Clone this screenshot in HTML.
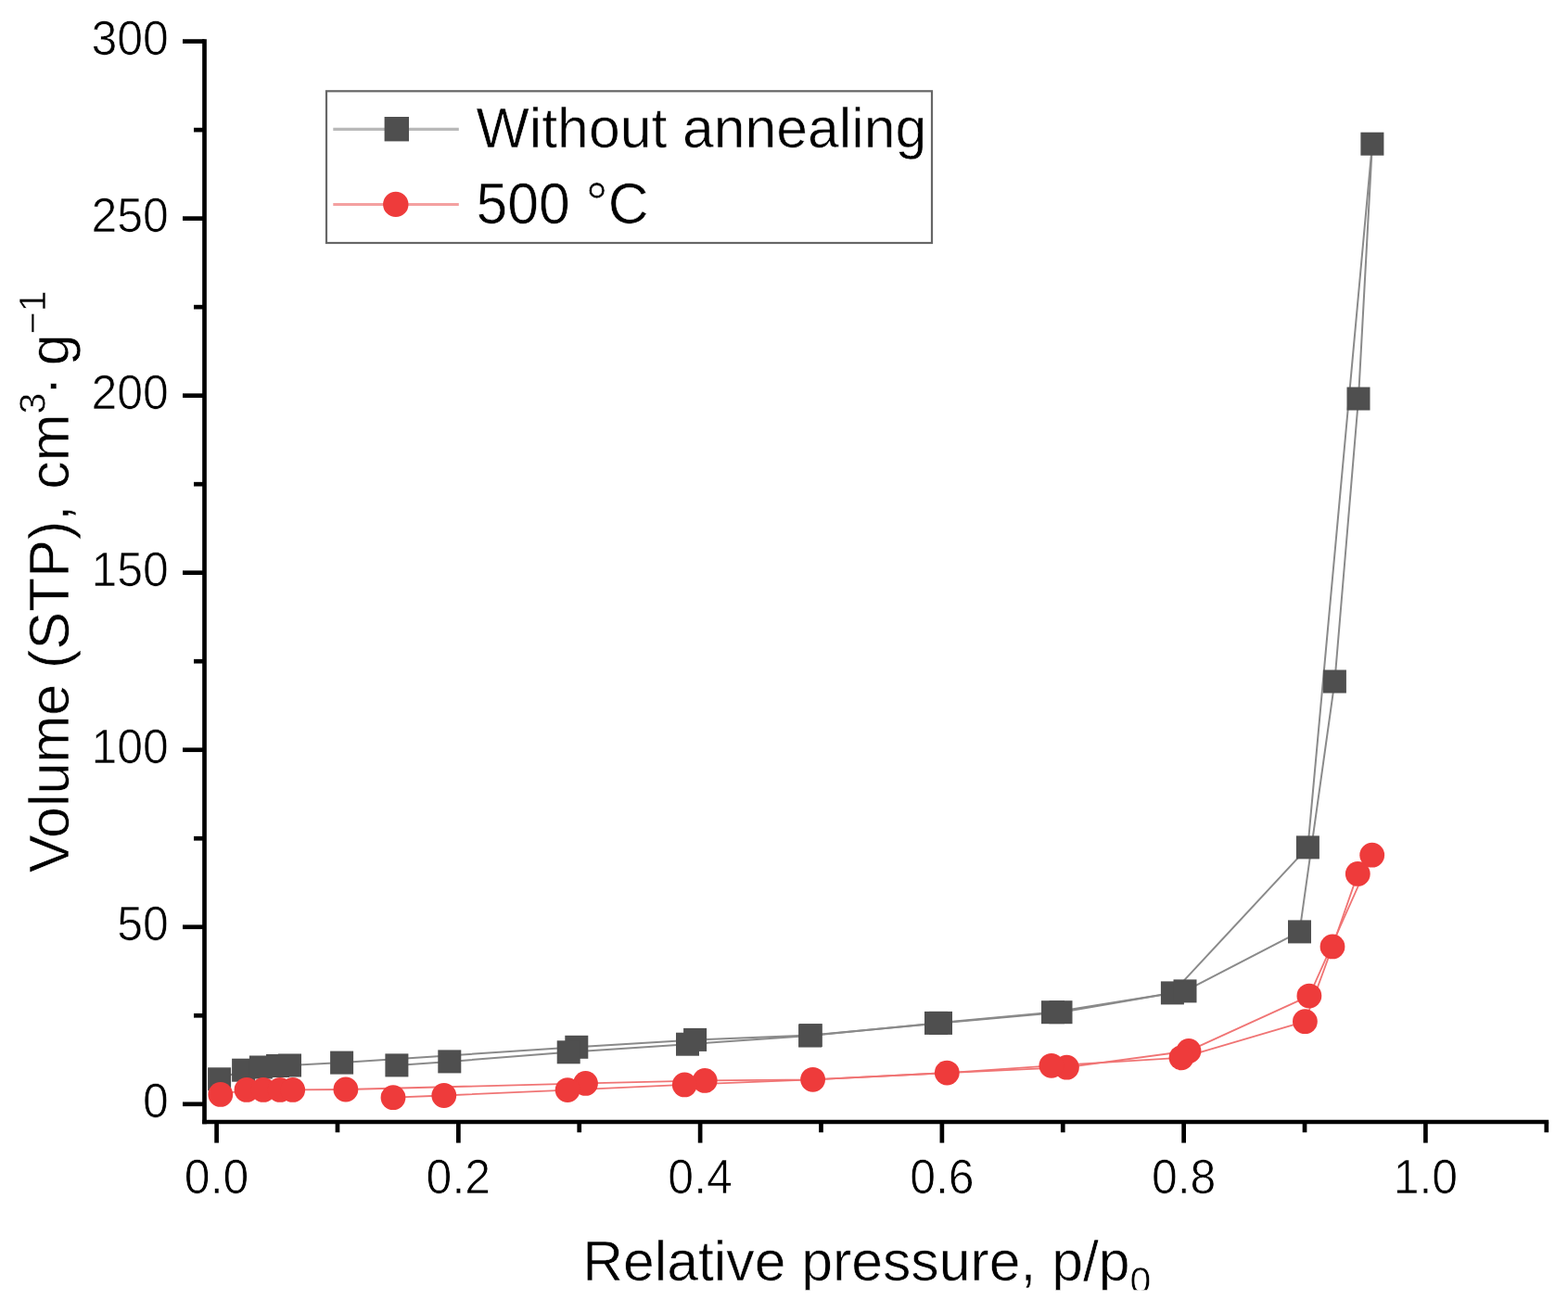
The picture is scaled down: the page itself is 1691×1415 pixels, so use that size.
<!DOCTYPE html>
<html><head><meta charset="utf-8"><style>
html,body{margin:0;padding:0;background:#fff;overflow:hidden;width:1691px;height:1415px;}
svg{display:block;}
text{font-family:"Liberation Sans",Arial,sans-serif;fill:#000;}
</style></head><body>
<svg width="1691" height="1415" viewBox="0 0 1691 1415">
<rect width="1691" height="1415" fill="#fff"/>
<polyline fill="none" stroke="#8a8a8a" stroke-width="2" stroke-linejoin="round" points="236.6,1163.8 262.6,1154.2 281.4,1151.0 299.5,1149.5 312.5,1149.0 368.6,1146.1 621.8,1129.3 749.6,1121.4 874.3,1116.6 1014.5,1103.4 1144.0,1091.7 1264.4,1070.9 1410.4,913.9 1479.9,155.2"/>
<polyline fill="none" stroke="#8a8a8a" stroke-width="2" stroke-linejoin="round" points="427.9,1148.9 484.8,1144.9 613.2,1134.8 741.5,1126.2 873.6,1117.0 1009.5,1103.4 1135.5,1091.7 1278.0,1068.9 1401.5,1004.9 1439.4,735.0 1465.0,430.0 1479.9,155.2"/>
<polyline fill="none" stroke="#f07474" stroke-width="1.8" stroke-linejoin="round" points="237.8,1180.4 266.0,1175.4 284.0,1175.4 302.0,1175.4 315.7,1175.4 372.9,1175.0 631.5,1168.4 760.2,1165.4 876.6,1164.3 1021.3,1157.1 1150.4,1151.2 1282.0,1133.4 1411.9,1074.1 1479.7,922.2"/>
<polyline fill="none" stroke="#f07474" stroke-width="1.8" stroke-linejoin="round" points="424.0,1183.7 478.8,1181.5 612.1,1175.6 738.3,1169.9 876.6,1164.3 1021.3,1157.1 1133.9,1149.3 1274.0,1140.8 1407.4,1101.7 1437.0,1020.9 1464.3,942.4 1479.7,922.2"/>
<rect x="224.1" y="1151.3" width="25.0" height="25.0" fill="#4f4f4f"/>
<rect x="250.1" y="1141.7" width="25.0" height="25.0" fill="#4f4f4f"/>
<rect x="268.9" y="1138.5" width="25.0" height="25.0" fill="#4f4f4f"/>
<rect x="287.0" y="1137.0" width="25.0" height="25.0" fill="#4f4f4f"/>
<rect x="300.0" y="1136.5" width="25.0" height="25.0" fill="#4f4f4f"/>
<rect x="356.1" y="1133.6" width="25.0" height="25.0" fill="#4f4f4f"/>
<rect x="609.3" y="1116.8" width="25.0" height="25.0" fill="#4f4f4f"/>
<rect x="737.1" y="1108.9" width="25.0" height="25.0" fill="#4f4f4f"/>
<rect x="861.8" y="1104.1" width="25.0" height="25.0" fill="#4f4f4f"/>
<rect x="1002.0" y="1090.9" width="25.0" height="25.0" fill="#4f4f4f"/>
<rect x="1131.5" y="1079.2" width="25.0" height="25.0" fill="#4f4f4f"/>
<rect x="1251.9" y="1058.4" width="25.0" height="25.0" fill="#4f4f4f"/>
<rect x="1397.9" y="901.4" width="25.0" height="25.0" fill="#4f4f4f"/>
<rect x="1467.4" y="142.7" width="25.0" height="25.0" fill="#4f4f4f"/>
<rect x="415.4" y="1136.4" width="25.0" height="25.0" fill="#4f4f4f"/>
<rect x="472.3" y="1132.4" width="25.0" height="25.0" fill="#4f4f4f"/>
<rect x="600.7" y="1122.3" width="25.0" height="25.0" fill="#4f4f4f"/>
<rect x="729.0" y="1113.7" width="25.0" height="25.0" fill="#4f4f4f"/>
<rect x="861.1" y="1104.5" width="25.0" height="25.0" fill="#4f4f4f"/>
<rect x="997.0" y="1090.9" width="25.0" height="25.0" fill="#4f4f4f"/>
<rect x="1123.0" y="1079.2" width="25.0" height="25.0" fill="#4f4f4f"/>
<rect x="1265.5" y="1056.4" width="25.0" height="25.0" fill="#4f4f4f"/>
<rect x="1389.0" y="992.4" width="25.0" height="25.0" fill="#4f4f4f"/>
<rect x="1426.9" y="722.5" width="25.0" height="25.0" fill="#4f4f4f"/>
<rect x="1452.5" y="417.5" width="25.0" height="25.0" fill="#4f4f4f"/>
<circle cx="237.8" cy="1180.4" r="13.4" fill="#ee3b3b"/>
<circle cx="266.0" cy="1175.4" r="13.4" fill="#ee3b3b"/>
<circle cx="284.0" cy="1175.4" r="13.4" fill="#ee3b3b"/>
<circle cx="302.0" cy="1175.4" r="13.4" fill="#ee3b3b"/>
<circle cx="315.7" cy="1175.4" r="13.4" fill="#ee3b3b"/>
<circle cx="372.9" cy="1175.0" r="13.4" fill="#ee3b3b"/>
<circle cx="631.5" cy="1168.4" r="13.4" fill="#ee3b3b"/>
<circle cx="760.2" cy="1165.4" r="13.4" fill="#ee3b3b"/>
<circle cx="876.6" cy="1164.3" r="13.4" fill="#ee3b3b"/>
<circle cx="1021.3" cy="1157.1" r="13.4" fill="#ee3b3b"/>
<circle cx="1150.4" cy="1151.2" r="13.4" fill="#ee3b3b"/>
<circle cx="1282.0" cy="1133.4" r="13.4" fill="#ee3b3b"/>
<circle cx="1411.9" cy="1074.1" r="13.4" fill="#ee3b3b"/>
<circle cx="1479.7" cy="922.2" r="13.4" fill="#ee3b3b"/>
<circle cx="424.0" cy="1183.7" r="13.4" fill="#ee3b3b"/>
<circle cx="478.8" cy="1181.5" r="13.4" fill="#ee3b3b"/>
<circle cx="612.1" cy="1175.6" r="13.4" fill="#ee3b3b"/>
<circle cx="738.3" cy="1169.9" r="13.4" fill="#ee3b3b"/>
<circle cx="1133.9" cy="1149.3" r="13.4" fill="#ee3b3b"/>
<circle cx="1274.0" cy="1140.8" r="13.4" fill="#ee3b3b"/>
<circle cx="1407.4" cy="1101.7" r="13.4" fill="#ee3b3b"/>
<circle cx="1437.0" cy="1020.9" r="13.4" fill="#ee3b3b"/>
<circle cx="1464.3" cy="942.4" r="13.4" fill="#ee3b3b"/>
<g stroke="#000" stroke-width="4.7" fill="none">
<path d="M220.50 42.24 V1212.35"/>
<path d="M218.15 1210.00 H1670.13"/>
<path d="M197 1190.80 H220.50"/>
<path d="M197 999.76 H220.50"/>
<path d="M197 808.73 H220.50"/>
<path d="M197 617.69 H220.50"/>
<path d="M197 426.66 H220.50"/>
<path d="M197 235.62 H220.50"/>
<path d="M197 44.59 H220.50"/>
<path d="M209 1095.28 H220.50"/>
<path d="M209 904.25 H220.50"/>
<path d="M209 713.21 H220.50"/>
<path d="M209 522.18 H220.50"/>
<path d="M209 331.14 H220.50"/>
<path d="M209 140.11 H220.50"/>
<path d="M233.60 1210.00 V1232.6"/>
<path d="M494.36 1210.00 V1232.6"/>
<path d="M755.12 1210.00 V1232.6"/>
<path d="M1015.88 1210.00 V1232.6"/>
<path d="M1276.64 1210.00 V1232.6"/>
<path d="M1537.40 1210.00 V1232.6"/>
<path d="M363.98 1210.00 V1221.3"/>
<path d="M624.74 1210.00 V1221.3"/>
<path d="M885.50 1210.00 V1221.3"/>
<path d="M1146.26 1210.00 V1221.3"/>
<path d="M1407.02 1210.00 V1221.3"/>
<path d="M1667.78 1210.00 V1221.3"/>
</g>
<g font-size="50" text-anchor="end" stroke="#fff" stroke-width="0.7">
<text transform="translate(181.8 1205.40) scale(1 1.04)">0</text>
<text transform="translate(181.8 1014.37) scale(1 1.04)">50</text>
<text transform="translate(181.8 823.33) scale(1 1.04)">100</text>
<text transform="translate(181.8 632.29) scale(1 1.04)">150</text>
<text transform="translate(181.8 441.26) scale(1 1.04)">200</text>
<text transform="translate(181.8 250.22) scale(1 1.04)">250</text>
<text transform="translate(181.8 59.19) scale(1 1.04)">300</text>
</g>
<g font-size="50" text-anchor="middle" stroke="#fff" stroke-width="0.7">
<text transform="translate(233.60 1287.0) scale(1 1.04)">0.0</text>
<text transform="translate(494.36 1287.0) scale(1 1.04)">0.2</text>
<text transform="translate(755.12 1287.0) scale(1 1.04)">0.4</text>
<text transform="translate(1015.88 1287.0) scale(1 1.04)">0.6</text>
<text transform="translate(1276.64 1287.0) scale(1 1.04)">0.8</text>
<text transform="translate(1537.40 1287.0) scale(1 1.04)">1.0</text>
</g>
<rect x="352" y="98.3" width="653" height="163.7" fill="none" stroke="#666" stroke-width="2.2"/>
<path d="M359.3 139.3 H494.8" stroke="#b8b8b8" stroke-width="3.2"/>
<rect x="414.6" y="126" width="26.4" height="26.4" fill="#4f4f4f"/>
<path d="M359.3 220.5 H494.8" stroke="#f4a0a0" stroke-width="3"/>
<circle cx="426.8" cy="220.4" r="13.7" fill="#ee3b3b"/>
<g stroke="#fff" stroke-width="0.6">
<text transform="translate(513.5 159.3)" font-size="60.7">Without annealing</text>
<text transform="translate(513.5 240.8) scale(1 1.04)" font-size="60.7">500 °C</text>
<clipPath id="cx"><rect x="0" y="0" width="1691" height="1391.3"/></clipPath>
<g clip-path="url(#cx)"><text transform="translate(628.2 1380.9)" font-size="60.7">Relative pressure, p/p<tspan font-size="41" dy="14.3">0</tspan></text></g>
<text transform="translate(73.6 941.3) rotate(-90) scale(1 1.01)" font-size="61">Volume (STP), cm<tspan font-size="41" dy="-24">3</tspan><tspan dy="24" dx="-2.8">·</tspan><tspan dx="-5"> g</tspan><tspan font-size="41" dy="-24">−1</tspan></text>
</g>
</svg></body></html>
